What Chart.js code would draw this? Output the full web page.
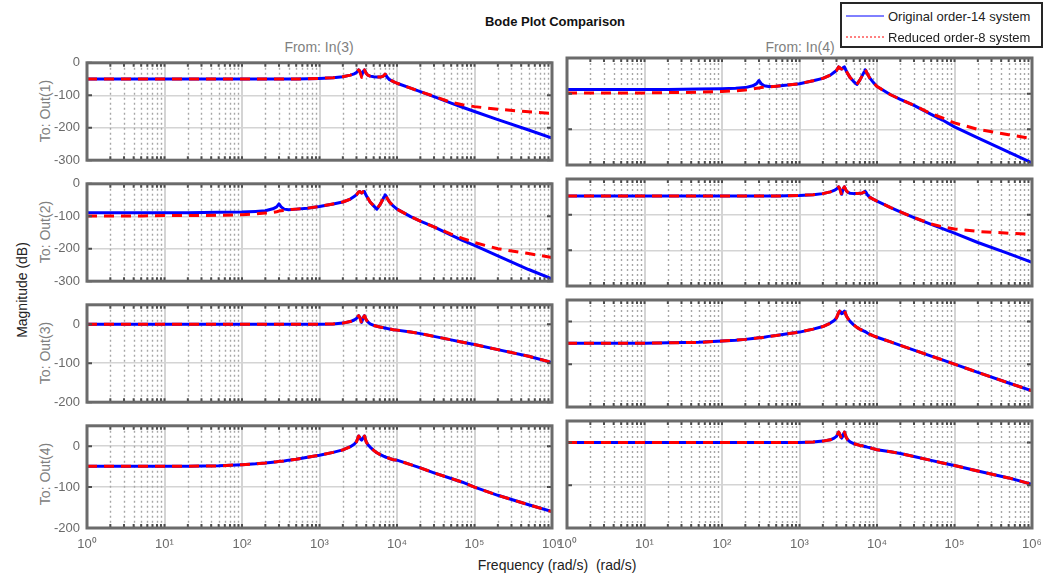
<!DOCTYPE html>
<html><head><meta charset="utf-8">
<script src="https://cdn.jsdelivr.net/npm/chart.js@4.4.0/dist/chart.umd.min.js"></script>
<style>
html,body{margin:0;padding:0;background:#fff;}
body{width:1050px;height:573px;position:relative;overflow:hidden;font-family:"Liberation Sans",Arial,sans-serif;}
canvas{position:absolute;}
.t{position:absolute;white-space:pre;line-height:1;}
.rot{transform:translate(-50%,-50%) rotate(-90deg);}
.ctr{transform:translate(-50%,0);}
#legend{position:absolute;left:840px;top:2px;width:199px;height:42px;border:2px solid #262626;background:#fff;z-index:5;font-size:13px;color:#222;}
#legend .row{position:absolute;left:0;height:15px;width:199px;}
#legend svg{position:absolute;left:4px;top:3px;}
#legend .lab{position:absolute;left:46px;top:0;white-space:nowrap;}
</style></head><body>

<div class="t ctr" style="left:555px;top:15px;font-weight:bold;font-size:13px;color:#111;">Bode Plot Comparison</div>
<div class="t ctr" style="left:319px;top:40px;font-size:14px;color:#808080;">From: In(3)</div>
<div class="t ctr" style="left:800px;top:40px;font-size:14px;color:#808080;">From: In(4)</div>
<div class="t rot" style="left:45px;top:111px;font-size:14px;color:#808080;">To: Out(1)</div>
<div class="t rot" style="left:45px;top:232px;font-size:14px;color:#808080;">To: Out(2)</div>
<div class="t rot" style="left:45px;top:353px;font-size:14px;color:#808080;">To: Out(3)</div>
<div class="t rot" style="left:45px;top:474px;font-size:14px;color:#808080;">To: Out(4)</div>
<div class="t rot" style="left:22px;top:290px;font-size:14px;color:#222;">Magnitude (dB)</div>
<div class="t ctr" style="left:557px;top:558px;font-size:14px;color:#222;">Frequency (rad/s)  (rad/s)</div>

<div id="legend">
  <div class="row" style="top:5px;"><svg width="38" height="8"><line x1="0" y1="4" x2="38" y2="4" stroke="#0000ff" stroke-width="1"/></svg><div class="lab">Original order-14 system</div></div>
  <div class="row" style="top:26px;"><svg width="38" height="8"><line x1="0" y1="4" x2="38" y2="4" stroke="#ff0000" stroke-width="1" stroke-dasharray="2,2"/></svg><div class="lab">Reduced order-8 system</div></div>
</div>

<script>
// ---------- data ----------
const freq = [1, 2, 5, 10, 20, 50, 100,
  150, 200, 250, 280, 300, 320, 350, 400, 500, 700,
  1000, 1500, 2000, 2500, 2800, 3000,
  3200, 3300, 3400, 3500, 3600, 3700, 3800, 3900, 4000,
  4200, 4500, 5000, 5500, 6000, 6500, 6800, 7000, 7200, 7500,
  8000, 9000, 10000, 15000, 20000, 30000,
  50000, 70000, 100000, 200000, 500000, 1000000];

// Out(1) <- In(3)
const blueO1I3 = [-50,-50,-50,-50,-50,-50,-50,
  -50,-50,-50,-50,-50,-50,-50,-50,-50,-49,
  -48,-46,-43,-38,-34,-30,
  -22,-25,-32,-40,-31,-25,-22,-27,-32,
  -38,-41,-43,-44,-44,-42,-39,-35,-38,-45,
  -52,-58,-63,-78,-89,-104,
  -124,-137,-150,-175,-207,-232];
const redO1I3 = [-50,-50,-50,-50,-50,-50,-50,
  -50,-50,-50,-50,-50,-50,-50,-50,-50,-49,
  -48,-46,-43,-38,-34,-30,
  -22,-26,-35,-45,-33,-25,-22,-27,-32,
  -38,-41,-43,-44,-44,-42,-39,-35,-38,-45,
  -52,-58,-63,-78,-89,-103,
  -122,-129,-135,-143,-151,-156];

// Out(1) <- In(4)
const blueO1I4 = [-88,-88,-88,-88,-88,-87,-86,
  -85,-83,-78,-72,-63,-72,-78,-80,-79,-76,
  -72,-64,-57,-48,-40,-35,
  -25,-27,-30,-31,-29,-26,-25,-30,-36,
  -44,-55,-66,-74,-62,-48,-40,-33,-36,-44,
  -55,-69,-80,-103,-116,-133,
  -158,-174,-193,-224,-264,-294];
const redO1I4 = [-98,-98,-98,-98,-97,-96,-94,
  -92,-90,-87,-85,-84,-83,-82,-81,-79,-76,
  -72,-64,-57,-48,-40,-35,
  -25,-27,-30,-31,-29,-26,-25,-30,-36,
  -44,-55,-66,-74,-62,-48,-40,-33,-36,-44,
  -55,-69,-80,-103,-116,-133,
  -156,-168,-182,-200,-215,-226];

// Out(2) <- In(3)
const blueO2I3 = [-89,-89,-89,-89,-89,-88,-87,
  -85,-83,-77,-71,-62,-71,-78,-80,-78,-75,
  -70,-62,-56,-47,-39,-34,
  -25,-24,-26,-28,-26,-24,-24,-30,-36,
  -44,-56,-68,-78,-65,-50,-40,-34,-37,-45,
  -56,-69,-78,-101,-115,-133,
  -158,-174,-190,-222,-264,-293];
const redO2I3 = [-99,-99,-99,-98,-98,-97,-95,
  -93,-90,-88,-86,-84,-83,-82,-80,-78,-75,
  -70,-62,-56,-47,-39,-34,
  -25,-24,-26,-28,-26,-24,-24,-30,-36,
  -44,-56,-68,-78,-65,-50,-40,-34,-37,-45,
  -56,-69,-78,-101,-115,-133,
  -155,-168,-181,-200,-215,-227];

// Out(2) <- In(4)
const blueO2I4 = [-48,-48,-48,-48,-48,-48,-48,
  -48,-48,-48,-48,-48,-48,-48,-48,-48,-47,
  -46,-44,-41,-36,-32,-28,
  -22,-26,-34,-43,-33,-26,-22,-27,-32,
  -37,-40,-41,-41,-40,-39,-37,-34,-37,-44,
  -51,-57,-62,-80,-92,-108,
  -127,-139,-152,-178,-209,-234];
const redO2I4 = [-48,-48,-48,-48,-48,-48,-48,
  -48,-48,-48,-48,-48,-48,-48,-48,-48,-47,
  -46,-44,-41,-36,-32,-28,
  -22,-27,-36,-46,-35,-26,-22,-27,-32,
  -37,-40,-41,-41,-40,-39,-37,-34,-37,-44,
  -51,-57,-62,-80,-92,-108,
  -126,-134,-140,-147,-152,-155];

// Out(3) <- In(3)
const blueO3I3 = [0,0,0,0,0,0,0,
  0,0,0,0,0,0,0,0,0,0,
  0,1,3,7,11,15,
  22,19,12,5,12,19,22,17,12,
  6,1,-3,-5,-7,-8,-9,-10,-10,-11,
  -12,-14,-15,-20,-24,-31,
  -40,-46,-52,-65,-82,-98];
const redO3I3 = [0,0,0,0,0,0,0,
  0,0,0,0,0,0,0,0,0,0,
  0,1,3,7,11,15,
  22,18,10,0,10,18,22,17,12,
  6,1,-3,-5,-7,-8,-9,-10,-10,-11,
  -12,-14,-15,-20,-24,-31,
  -40,-46,-52,-65,-82,-98];

// Out(3) <- In(4)
const blueO3I4 = [-51,-51,-51,-51,-50,-49,-46,
  -44,-42,-40,-39,-38,-38,-37,-35,-33,-29,
  -25,-18,-12,-4,2,8,
  20,24,22,18,19,22,24,20,14,
  7,0,-8,-14,-18,-21,-23,-24,-25,-27,
  -30,-34,-37,-48,-56,-67,
  -81,-90,-100,-119,-144,-162];
const redO3I4 = [-51,-51,-51,-51,-50,-49,-46,
  -44,-42,-40,-39,-38,-38,-37,-35,-33,-29,
  -25,-18,-12,-4,2,8,
  21,24,21,17,18,22,24,20,14,
  7,0,-8,-14,-18,-21,-23,-24,-25,-27,
  -30,-34,-37,-48,-56,-67,
  -81,-90,-100,-119,-144,-162];

// Out(4) <- In(3)
const blueO4I3 = [-49,-49,-49,-49,-49,-48,-45,
  -43,-41,-39,-38,-37,-37,-36,-34,-32,-27,
  -22,-15,-9,-1,5,11,
  25,22,17,15,18,22,25,18,11,
  4,-2,-10,-16,-20,-23,-25,-26,-27,-28,
  -30,-33,-34,-45,-53,-65,
  -79,-88,-100,-120,-143,-160];
const redO4I3 = [-49,-49,-49,-49,-49,-48,-45,
  -43,-41,-39,-38,-37,-37,-36,-34,-32,-27,
  -22,-15,-9,-1,5,11,
  25,21,16,14,17,22,25,18,11,
  4,-2,-10,-16,-20,-23,-25,-26,-27,-28,
  -30,-33,-34,-45,-53,-65,
  -79,-88,-100,-120,-143,-160];

// Out(4) <- In(4)
const blueO4I4 = [0,0,0,0,0,0,0,
  0,0,0,0,0,0,0,0,0,0,
  0,1,3,6,10,14,
  24,20,14,10,14,20,24,18,12,
  6,1,-3,-5,-7,-8,-9,-10,-10,-11,
  -12,-15,-17,-22,-26,-33,
  -42,-48,-54,-67,-83,-98];
const redO4I4 = [0,0,0,0,0,0,0,
  0,0,0,0,0,0,0,0,0,0,
  0,1,3,6,10,14,
  24,19,13,8,13,20,24,18,12,
  6,1,-3,-5,-7,-8,-9,-10,-10,-11,
  -12,-15,-17,-22,-26,-33,
  -42,-48,-54,-67,-83,-98];

// ---------- ticks ----------
const decades = [1, 10, 100, 1000, 10000, 100000, 1000000];
const decadeLabels = ['10\u2070', '10\u00b9', '10\u00b2', '10\u00b3', '10\u2074', '10\u2075', '10\u2076'];
const minorSteps = [2, 3, 4, 5, 6, 7, 8, 9];
const yTicksWide = [-300, -200, -100, 0];
const yTicksNarrow = [-200, -100, 0];

const xTickValues = [];
decades.forEach((d, i) => {
  xTickValues.push(d);
  if (i < decades.length - 1) minorSteps.forEach(m => xTickValues.push(d * m));
});

// ---------- layout ----------
const PLOT_W = 465, PLOT_H = 107;
const COL_LEFT = [87, 567];
const ROW_TOP = [58, 179, 300, 421];
const PAD_T = 10, PAD_B = 10, PAD_R = 24, Y_W = 60, X_H = 32, PAD_L_RIGHTCOL = 24;

const panels = [
  {row:0, col:0, blue:blueO1I3, red:redO1I3, yMin:-300, yMax:0, yTicks:yTicksWide},
  {row:0, col:1, blue:blueO1I4, red:redO1I4, yMin:-300, yMax:0, yTicks:yTicksWide},
  {row:1, col:0, blue:blueO2I3, red:redO2I3, yMin:-300, yMax:0, yTicks:yTicksWide},
  {row:1, col:1, blue:blueO2I4, red:redO2I4, yMin:-300, yMax:0, yTicks:yTicksWide},
  {row:2, col:0, blue:blueO3I3, red:redO3I3, yMin:-200, yMax:50, yTicks:yTicksNarrow},
  {row:2, col:1, blue:blueO3I4, red:redO3I4, yMin:-200, yMax:50, yTicks:yTicksNarrow},
  {row:3, col:0, blue:blueO4I3, red:redO4I3, yMin:-200, yMax:50, yTicks:yTicksNarrow},
  {row:3, col:1, blue:blueO4I4, red:redO4I4, yMin:-200, yMax:50, yTicks:yTicksNarrow}
];

Chart.defaults.font.family = '"Liberation Sans", Arial, sans-serif';

const matlabAxes = {
  id: 'matlabAxes',
  beforeDatasetsDraw(chart) {
    const {ctx, chartArea: a} = chart;
    const x = chart.scales.x;
    ctx.save();
    ctx.strokeStyle = '#a6a6a6';
    ctx.lineWidth = 1.4;
    ctx.setLineDash([2, 3]);
    x.ticks.forEach(t => {
      if (t.major) return;
      const px = Math.round(x.getPixelForValue(t.value)) + 0.5;
      ctx.beginPath(); ctx.moveTo(px, a.top); ctx.lineTo(px, a.bottom); ctx.stroke();
    });
    ctx.restore();
  },
  afterDraw(chart) {
    const {ctx, chartArea: a} = chart;
    const x = chart.scales.x, y = chart.scales.y;
    ctx.save();
    ctx.strokeStyle = '#4d4d4d';
    ctx.lineWidth = 2;
    x.ticks.forEach(t => {
      const px = x.getPixelForValue(t.value);
      ctx.beginPath();
      ctx.moveTo(px, a.top); ctx.lineTo(px, a.top + 4);
      ctx.moveTo(px, a.bottom); ctx.lineTo(px, a.bottom - 4);
      ctx.stroke();
    });
    y.ticks.forEach(t => {
      const py = y.getPixelForValue(t.value);
      ctx.beginPath();
      ctx.moveTo(a.left, py); ctx.lineTo(a.left + 5, py);
      ctx.moveTo(a.right, py); ctx.lineTo(a.right - 5, py);
      ctx.stroke();
    });
    ctx.strokeStyle = '#6b6b6b';
    ctx.lineWidth = 3;
    ctx.strokeRect(a.left, a.top, a.right - a.left, a.bottom - a.top);
    ctx.restore();
  }
};

panels.forEach(p => {
  const isLeft = p.col === 0, isBottom = p.row === 3;
  const padL = isLeft ? 0 : PAD_L_RIGHTCOL;
  const yW = isLeft ? Y_W : 0;
  const xH = isBottom ? X_H : 0;
  const cv = document.createElement('canvas');
  const w = padL + yW + PLOT_W + PAD_R;
  const h = PAD_T + PLOT_H + xH + PAD_B;
  cv.width = w; cv.height = h;
  cv.style.width = w + 'px'; cv.style.height = h + 'px';
  cv.style.left = (COL_LEFT[p.col] - yW - padL) + 'px';
  cv.style.top = (ROW_TOP[p.row] - PAD_T) + 'px';
  document.body.appendChild(cv);

  new Chart(cv, {
    type: 'line',
    data: {
      datasets: [
        {label: 'Reduced order-8 system', data: freq.map((f, i) => ({x: f, y: p.red[i]})),
         borderColor: '#ff0000', borderWidth: 3, borderDash: [10, 7], pointRadius: 0,
         borderJoinStyle: 'round', tension: 0, order: 0},
        {label: 'Original order-14 system', data: freq.map((f, i) => ({x: f, y: p.blue[i]})),
         borderColor: '#0000ff', borderWidth: 3, pointRadius: 0,
         borderJoinStyle: 'round', tension: 0, order: 1}
      ]
    },
    options: {
      responsive: false, animation: false, devicePixelRatio: 1,
      layout: {padding: {top: PAD_T, right: PAD_R, bottom: PAD_B, left: padL}},
      plugins: {legend: {display: false}, tooltip: {enabled: false}},
      scales: {
        x: {
          type: 'logarithmic', min: 1, max: 1000000,
          afterBuildTicks: s => { s.ticks = xTickValues.map(v => ({value: v, major: decades.includes(v)})); },
          afterFit: s => { s.height = xH; },
          grid: {drawTicks: false, lineWidth: 2,
                 color: c => (c.tick && decades.includes(c.tick.value)) ? '#d4d4d4' : 'rgba(0,0,0,0)'},
          border: {display: false},
          ticks: {display: isBottom, autoSkip: false, maxRotation: 0, minRotation: 0, padding: 9,
                  color: '#6a6a6a', font: {size: 13},
                  callback: v => { const i = decades.indexOf(v); return i >= 0 ? decadeLabels[i] : ''; }}
        },
        y: {
          min: p.yMin, max: p.yMax,
          afterBuildTicks: s => { s.ticks = p.yTicks.map(v => ({value: v})); },
          afterFit: s => { s.width = yW; },
          grid: {drawTicks: false, lineWidth: 1.5, color: '#d4d4d4'},
          border: {display: false},
          ticks: {display: isLeft, padding: 7, color: '#6a6a6a', font: {size: 13},
                  callback: v => String(v)}
        }
      }
    },
    plugins: [matlabAxes]
  });
});
</script>
</body></html>
